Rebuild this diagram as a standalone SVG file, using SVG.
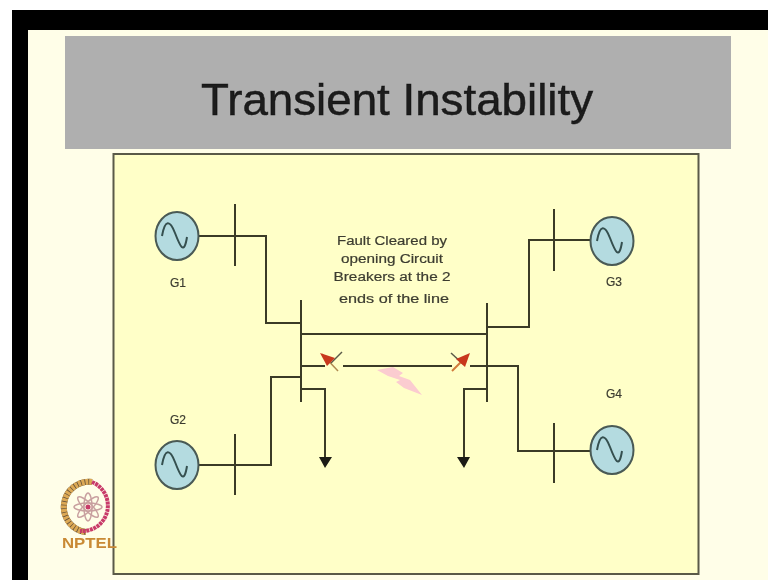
<svg xmlns="http://www.w3.org/2000/svg" width="768" height="580" viewBox="0 0 768 580">
<style>
.w{fill:none;stroke:#3a3a28;stroke-width:2}
.gen{fill:#b4dbe0;stroke:#4a5a55;stroke-width:2}
.sine{fill:none;stroke:#35504f;stroke-width:2}
.lb{font-family:"Liberation Sans",Arial,sans-serif;font-size:12px;fill:#3c3c30;text-anchor:middle;stroke:#3c3c30;stroke-width:.2}
.ft{font-size:12.500px}
</style>
<defs><filter id="soft" x="-5%" y="-5%" width="110%" height="110%"><feGaussianBlur stdDeviation="0.5"/></filter></defs>
<rect width="768" height="580" fill="#fff"/>
<rect x="12" y="10" width="756" height="570" fill="#000"/>
<rect x="28" y="30" width="740" height="550" fill="#fffee8"/>
<rect id="title-band" x="65" y="36" width="666" height="113" fill="#afafaf"/>
<text id="title" x="397" y="115" font-family="'Liberation Sans',Arial,sans-serif" font-size="45" fill="#1a1a1a" stroke="#1a1a1a" stroke-width=".5" text-anchor="middle" textLength="392" lengthAdjust="spacingAndGlyphs" filter="url(#soft)">Transient Instability</text>
<rect id="panel" x="113.500" y="154" width="585" height="420" fill="#ffffc8" stroke="#5a5a48" stroke-width="2"/>
<g filter="url(#soft)">
<g id="connectors">
<path class="w" d="M198 236H266V323H301"/>
<path class="w" d="M301 334H487"/>
<path class="w" d="M301 366H325M343 366H452M470 366H518V451H590"/>
<path class="w" d="M198 465H271V377H301"/>
<path class="w" d="M301 389H325V458"/>
<path class="w" d="M487 389H464V458"/>
<path class="w" d="M487 327H529V240H590"/>
<path class="w" d="M301 300V402M487 303V402"/>
<path class="w" d="M235 204V266M235 434V495M554 209V271M554 423V483"/>
<path d="M319 457H332L325 468Z M457 457H470L464 468Z" fill="#1c1c14"/>
</g>
<g id="G1"><ellipse class="gen" cx="177" cy="236" rx="21.500" ry="24"/><path class="sine" d="M162 236C165 219 170 220 175 233S184 256 187 237"/><text class="lb" x="178" y="287">G1</text></g>
<g id="G2"><ellipse class="gen" cx="177" cy="465" rx="21.500" ry="24"/><path class="sine" d="M162 465C165 448 170 449 175 462S184 485 187 466"/><text class="lb" x="178" y="424">G2</text></g>
<g id="G3"><ellipse class="gen" cx="612" cy="241" rx="21.500" ry="24"/><path class="sine" d="M597 241C600 224 605 225 610 238S619 261 622 242"/><text class="lb" x="614" y="286">G3</text></g>
<g id="G4"><ellipse class="gen" cx="612" cy="450" rx="21.500" ry="24"/><path class="sine" d="M597 450C600 433 605 434 610 447S619 470 622 451"/><text class="lb" x="614" y="398">G4</text></g>
<g id="breaker-left"><path d="M322 354L338 371" fill="none" stroke="#b08a50" stroke-width="1.500"/><path d="M331 363L342 352" fill="none" stroke="#5a5a48" stroke-width="1.500"/><path d="M320 353L335 358L327 366Z" fill="#c8391f"/></g>
<g id="breaker-right"><path d="M451 353L463 364" fill="none" stroke="#5a5a48" stroke-width="1.500"/><path d="M452 371L466 357" fill="none" stroke="#d07a3a" stroke-width="2"/><path d="M470 353L456 359L465 367Z" fill="#c8391f"/></g>
<path id="fault" d="M377 370L393 367L403 373L399 376L410 380L422 395L404 388L396 382L400 380L388 376Z" fill="#fbccd0"/>
<g id="fault-label">
<text class="lb ft" x="392" y="245" textLength="110" lengthAdjust="spacingAndGlyphs">Fault Cleared by</text>
<text class="lb ft" x="392" y="263" textLength="102" lengthAdjust="spacingAndGlyphs">opening Circuit</text>
<text class="lb ft" x="392" y="281" textLength="117" lengthAdjust="spacingAndGlyphs">Breakers at the 2</text>
<text class="lb ft" x="394" y="303" textLength="110" lengthAdjust="spacingAndGlyphs">ends of the line</text>
</g>
<g id="nptel-logo">
<path d="M92 482A25 25 0 0 0 86 532" fill="none" stroke="#5a4a38" stroke-width="6"/>
<path d="M92 482A25 25 0 0 0 86 532" fill="none" stroke="#dca955" stroke-width="6" stroke-dasharray="3 .7"/>
<path d="M92 482A25.500 25.500 0 0 1 80 531" fill="none" stroke="#c83a6a" stroke-width="4" stroke-dasharray="3 .7"/>
<g fill="none" stroke="#c9a0a0" stroke-width="1.500"><ellipse cx="88" cy="507" rx="4" ry="14"/><ellipse cx="88" cy="507" rx="4" ry="14" transform="rotate(45 88 507)"/><ellipse cx="88" cy="507" rx="4" ry="14" transform="rotate(90 88 507)"/><ellipse cx="88" cy="507" rx="4" ry="14" transform="rotate(135 88 507)"/></g>
<circle cx="88" cy="507" r="2.500" fill="#c83a6a"/>
<text x="89.500" y="548" font-family="'Liberation Sans',Arial,sans-serif" font-size="14" font-weight="700" fill="#c98a35" text-anchor="middle" textLength="55" lengthAdjust="spacingAndGlyphs">NPTEL</text>
</g>
</g>
</svg>
